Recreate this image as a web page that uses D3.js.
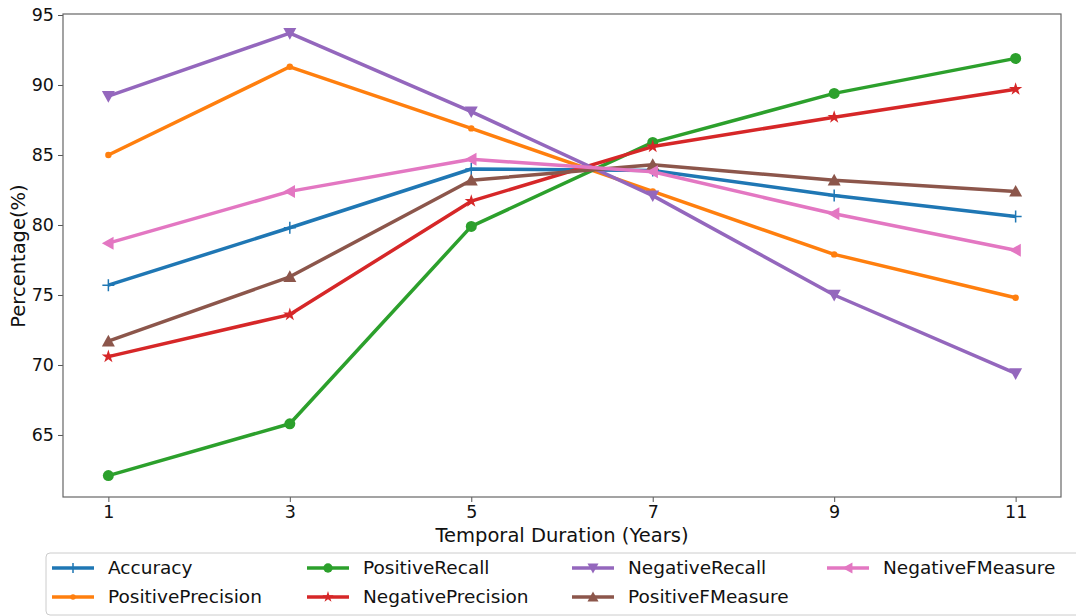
<!DOCTYPE html>
<html>
<head>
<meta charset="utf-8">
<script src="https://cdn.jsdelivr.net/npm/d3@7"></script>
<style>
  body { margin: 0; background: #fff; }
  svg text { font-family: "DejaVu Sans", sans-serif; fill: #111; }
</style>
</head>
<body>
<svg id="chart" width="1076" height="616"></svg>
<script>
/* data */
const years = [1, 3, 5, 7, 9, 11];
const seriesNames = ["Accuracy", "PositivePrecision", "PositiveRecall", "NegativePrecision",
    "NegativeRecall", "PositiveFMeasure", "NegativeFMeasure"];
const accuracy = [75.7, 79.8, 84.0, 83.9, 82.1, 80.6];
const positivePrecision = [85.0, 91.3, 86.9, 82.4, 77.9, 74.8];
const positiveRecall = [62.1, 65.8, 79.9, 85.9, 89.4, 91.9];
const negativePrecision = [70.6, 73.6, 81.7, 85.6, 87.7, 89.7];
const negativeRecall = [89.2, 93.7, 88.1, 82.1, 75.0, 69.4];
const positiveFMeasure = [71.7, 76.3, 83.2, 84.3, 83.2, 82.4];
const negativeFMeasure = [78.7, 82.4, 84.7, 83.8, 80.8, 78.2];
const yTicks = [65, 70, 75, 80, 85, 90, 95];

const colors = ["#1f77b4", "#ff7f0e", "#2ca02c", "#d62728", "#9467bd", "#8c564b", "#e377c2"];
const markers = ["plus", "point", "circle", "star", "down", "up", "left"];
const allValues = [accuracy, positivePrecision, positiveRecall, negativePrecision,
    negativeRecall, positiveFMeasure, negativeFMeasure];

const series = seriesNames.map((name, i) => ({
    name: name, color: colors[i], marker: markers[i],
    values: years.map((yr, j) => ({ x: yr, y: allValues[i][j] }))
}));

const svg = d3.select("#chart");
const plotLeft = 63, plotRight = 1061, plotTop = 15, plotBottom = 497;

const x = d3.scaleLinear().domain([0.5, 11.5]).range([plotLeft, plotRight]);
const y = d3.scaleLinear().domain([60.57, 95]).range([plotBottom, plotTop]);

/* marker paths */
function triangle(dir, r) {
    const pts = {
        down: [[-r, -r * 0.8], [r, -r * 0.8], [0, r]],
        up: [[-r, r * 0.8], [r, r * 0.8], [0, -r]],
        left: [[r * 0.8, -r], [r * 0.8, r], [-r, 0]]
    }[dir];
    return "M" + pts.map(p => p.join(",")).join("L") + "Z";
}

function drawMarker(g, type, color, cx, cy, scale) {
    const s = scale || 1;
    if (type === "plus") {
        g.append("path")
            .attr("d", `M${cx - 6 * s},${cy}H${cx + 6 * s}M${cx},${cy - 6 * s}V${cy + 6 * s}`)
            .attr("stroke", color).attr("stroke-width", 1.5).attr("fill", "none");
    } else if (type === "point") {
        g.append("circle").attr("cx", cx).attr("cy", cy).attr("r", 3.2 * s).attr("fill", color);
    } else if (type === "circle") {
        g.append("circle").attr("cx", cx).attr("cy", cy).attr("r", 5.5 * s).attr("fill", color);
    } else if (type === "star") {
        g.append("path")
            .attr("d", d3.symbol().type(d3.symbolStar).size(55 * s * s)())
            .attr("transform", `translate(${cx},${cy})`)
            .attr("fill", color);
    } else {
        g.append("path")
            .attr("d", triangle(type, 6.5 * s))
            .attr("transform", `translate(${cx},${cy})`)
            .attr("fill", color);
    }
}

/* axes */
const yAxis = d3.axisLeft(y).tickValues(yTicks).tickSize(5).tickPadding(4);
const xAxis = d3.axisBottom(x).tickValues(years).tickSize(5).tickPadding(4);

svg.append("g")
    .attr("transform", `translate(${plotLeft},0)`)
    .call(yAxis)
    .call(g => g.select(".domain").remove())
    .call(g => g.selectAll(".tick line").attr("stroke", "#555"))
    .call(g => g.selectAll(".tick text").style("font-size", "17.5px"));

svg.append("g")
    .attr("transform", `translate(0,${plotBottom})`)
    .call(xAxis)
    .call(g => g.select(".domain").remove())
    .call(g => g.selectAll(".tick line").attr("stroke", "#555"))
    .call(g => g.selectAll(".tick text").style("font-size", "17.5px"));

/* frame */
svg.append("rect")
    .attr("x", plotLeft).attr("y", plotTop - 1)
    .attr("width", plotRight - plotLeft).attr("height", plotBottom - plotTop + 1)
    .attr("fill", "none").attr("stroke", "#666").attr("stroke-width", 1.2);

/* axis labels */
svg.append("text")
    .attr("x", 562)
    .attr("y", 542)
    .attr("text-anchor", "middle")
    .style("font-size", "19.5px")
    .text("Temporal Duration (Years)");

svg.append("text")
    .attr("transform", `translate(25,${256}) rotate(-90)`)
    .attr("text-anchor", "middle")
    .style("font-size", "19.5px")
    .text("Percentage(%)");

/* lines */
const line = d3.line().x(d => x(d.x)).y(d => y(d.y));

series.forEach(s => {
    const g = svg.append("g").attr("class", "series");
    g.append("path")
        .datum(s.values)
        .attr("d", line)
        .attr("fill", "none")
        .attr("stroke", s.color)
        .attr("stroke-width", 3.5)
        .attr("stroke-linejoin", "round");
    s.values.forEach(d => drawMarker(g, s.marker, s.color, x(d.x), y(d.y)));
});

/* legend */
const legend = svg.append("g").attr("class", "legend");
legend.append("rect")
    .attr("x", 46).attr("y", 553)
    .attr("width", 1050).attr("height", 62)
    .attr("rx", 4)
    .attr("fill", "#fff").attr("stroke", "#ccc").attr("stroke-width", 1);

const colX = [52, 307, 572, 827];
const rowY = [568, 597];
series.forEach((s, i) => {
    const cx = colX[Math.floor(i / 2)], cy = rowY[i % 2];
    const g = legend.append("g");
    g.append("line")
        .attr("x1", cx).attr("x2", cx + 42)
        .attr("y1", cy).attr("y2", cy)
        .attr("stroke", s.color).attr("stroke-width", 3.5);
    drawMarker(g, s.marker, s.color, cx + 21, cy, 0.85);
    g.append("text")
        .attr("x", cx + 56).attr("y", cy)
        .attr("dy", "0.35em")
        .style("font-size", "18.5px")
        .text(s.name);
});
</script>
</body>
</html>
